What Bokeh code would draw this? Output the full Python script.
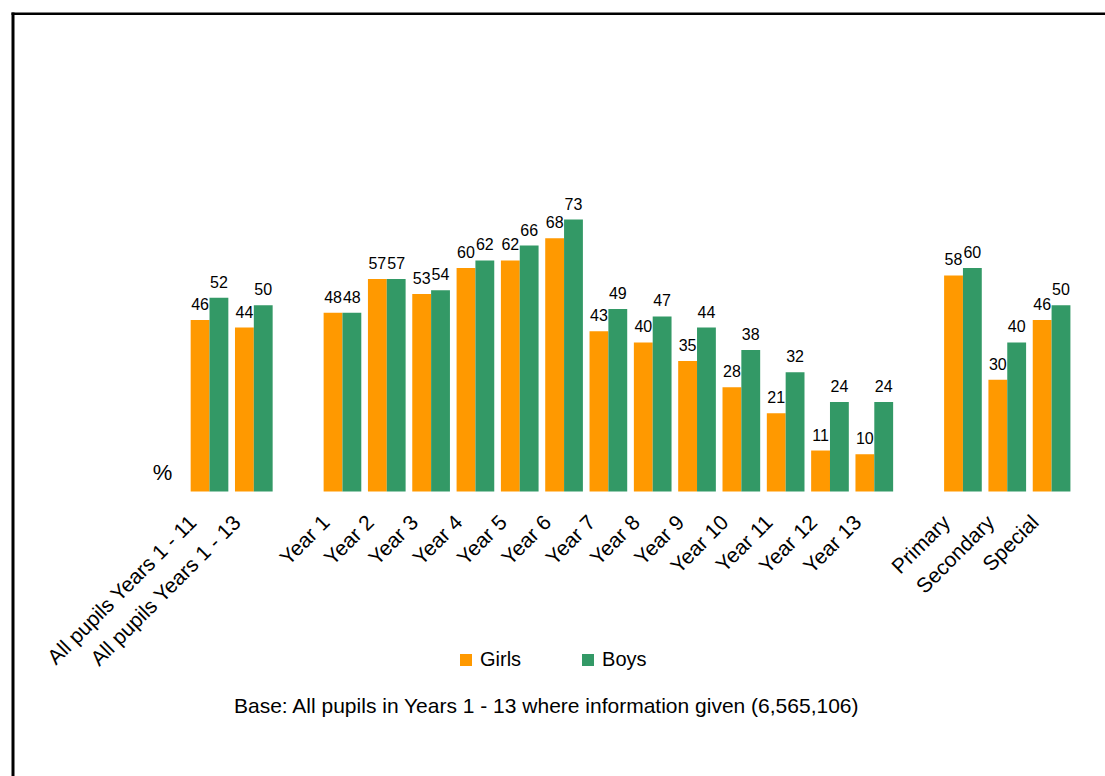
from math import pi
from bokeh.plotting import figure
from bokeh.models import (ColumnDataSource, Range1d, LabelSet, Label, Legend, LegendItem,
                          LinearAxis, FixedTicker, BoxAnnotation)
from bokeh.core.properties import value
from bokeh.embed import file_html
from bokeh.resources import INLINE

categories = ["All pupils Years 1 - 11", "All pupils Years 1 - 13", "",
              "Year 1", "Year 2", "Year 3", "Year 4", "Year 5", "Year 6", "Year 7",
              "Year 8", "Year 9", "Year 10", "Year 11", "Year 12", "Year 13", "",
              "Primary", "Secondary", "Special"]
bar_categories = ["All pupils Years 1 - 11", "All pupils Years 1 - 13",
                  "Year 1", "Year 2", "Year 3", "Year 4", "Year 5", "Year 6", "Year 7",
                  "Year 8", "Year 9", "Year 10", "Year 11", "Year 12", "Year 13",
                  "Primary", "Secondary", "Special"]
girls = [46, 44, 48, 57, 53, 60, 62, 68, 43, 40, 35, 28, 21, 11, 10, 58, 30, 46]
boys = [52, 50, 48, 57, 54, 62, 66, 73, 49, 47, 44, 38, 32, 24, 24, 60, 40, 50]
footer = "Base: All pupils in Years 1 - 13 where information given (6,565,106)"

ORANGE = "#FF9900"
GREEN = "#339966"
FONT = "Liberation Sans"

W, H = 1105, 776
SX, SY = 44.32, 3.726          # px per unit
X0 = -209 / SX
X1 = X0 + W / SX
Y1 = 491 / SY
Y0 = Y1 - H / SY
w = 0.425
LABEL_SHIFT = 0.38              # rotated labels end left of the category centre

pos = [categories.index(c) for c in bar_categories]
ticks = [x - LABEL_SHIFT for x in pos]
src = ColumnDataSource(dict(
    xg=[x - w / 2 for x in pos], xb=[x + w / 2 for x in pos],
    girls=girls, boys=boys,
    girls_txt=[str(v) for v in girls], boys_txt=[str(v) for v in boys]))

p = figure(width=W, height=H, output_backend="svg", toolbar_location=None,
           x_range=Range1d(X0, X1), y_range=Range1d(Y0, Y1),
           x_axis_location=None, y_axis_location=None,
           min_border=0, min_border_left=0, min_border_right=0,
           min_border_top=0, min_border_bottom=0)
p.outline_line_color = None
p.xgrid.visible = False
p.ygrid.visible = False

xaxis = LinearAxis(fixed_location=0,
                   ticker=FixedTicker(ticks=ticks),
                   major_label_overrides={t: c for t, c in zip(ticks, bar_categories)},
                   axis_line_color=None, major_tick_line_color=None,
                   minor_tick_line_color=None,
                   major_label_orientation=pi / 4,
                   major_label_text_font=FONT, major_label_text_font_size="21px",
                   major_label_text_color="#000000", major_label_standoff=21)
p.add_layout(xaxis, "below")

rg = p.vbar(x="xg", top="girls", width=w, source=src, fill_color=ORANGE, line_color=None)
rb = p.vbar(x="xb", top="boys", width=w, source=src, fill_color=GREEN, line_color=None)

for xc, col in (("xg", "girls"), ("xb", "boys")):
    p.add_layout(LabelSet(x=xc, y=col, text=col + "_txt", source=src,
                          text_align="center", text_baseline="alphabetic",
                          y_offset=10, text_font=value(FONT), text_font_size="16px",
                          text_color="#000000"))

legend = Legend(items=[LegendItem(label="Girls", renderers=[rg]),
                       LegendItem(label="Boys", renderers=[rb])],
                orientation="horizontal", location=(458, 105),
                label_text_font=FONT, label_text_font_size="20px",
                label_text_color="#000000",
                glyph_width=15, glyph_height=15, label_standoff=7, spacing=59,
                padding=0, margin=0, border_line_color=None, background_fill_alpha=0)
p.add_layout(legend, "center")

p.add_layout(Label(x=X0 + 162 / SX, y=Y1 - 472 / SY, text="%", text_font=FONT,
                   text_font_size="22px", text_align="center", text_baseline="middle",
                   text_color="#000000"))
p.add_layout(Label(x=X0 + 546.5 / SX, y=Y1 - 705 / SY, text=footer,
                   text_font=FONT, text_font_size="21px", text_align="center",
                   text_baseline="middle", text_color="#000000"))

# chart-area border (left and top edges), as thin filled strips
p.add_layout(BoxAnnotation(left=X0 + 11 / SX, right=X0 + 14 / SX,
                           top=Y1 - 12 / SY, bottom=Y0 - 20,
                           fill_color="#000000", fill_alpha=1, line_color=None))
p.add_layout(BoxAnnotation(left=X0 + 11 / SX, right=X1 + 5,
                           top=Y1 - 12 / SY, bottom=Y1 - 14.5 / SY,
                           fill_color="#000000", fill_alpha=1, line_color=None))

open("out.html", "w").write(file_html(p, INLINE))
